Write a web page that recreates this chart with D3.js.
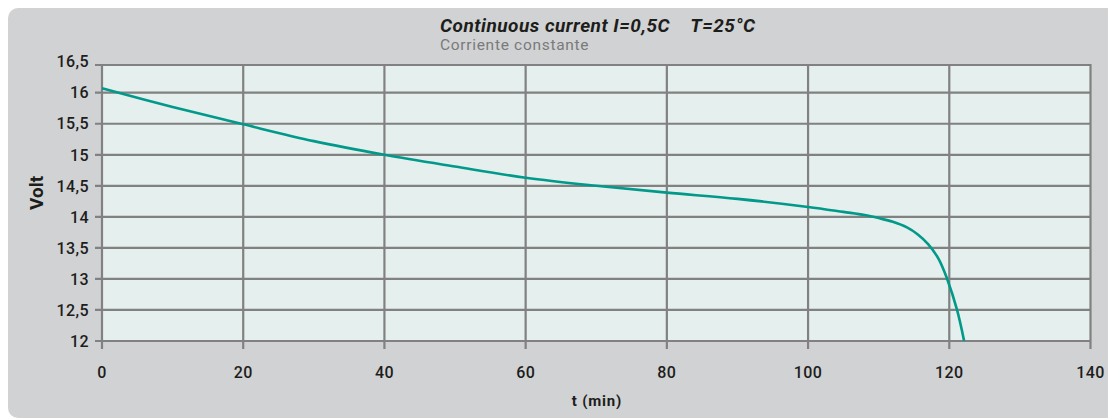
<!DOCTYPE html>
<html>
<head>
<meta charset="utf-8">
<script src="https://cdn.jsdelivr.net/npm/d3@7"></script>
<style>
  body { margin: 0; background: #fff; }
  text { font-family: Roboto, "DejaVu Sans", sans-serif; fill: #1d1d1b; }
</style>
</head>
<body>
<div id="chart"></div>
<script>
// discharge curve
var timeMin = [0, 10, 20, 30, 40, 50, 60, 70, 80, 90, 100, 105, 108, 110, 112, 114, 115.5, 117, 118.5, 119.7, 121.1, 122.1];
var volts   = [16.07, 15.77, 15.49, 15.22, 15.0, 14.81, 14.63, 14.50, 14.39, 14.29, 14.16, 14.08, 14.03, 13.98, 13.92, 13.83, 13.72, 13.56, 13.32, 13.0, 12.5, 12.0];
var xTicks = [0, 20, 40, 60, 80, 100, 120, 140];
var yTicks = [12, 12.5, 13, 13.5, 14, 14.5, 15, 15.5, 16, 16.5];
var titleText = "Continuous current I=0,5C    T=25°C";
var subtitleText = "Corriente constante";

var W = 1108, H = 420;
var plotTop = 65;

var svg = d3.select("#chart").append("svg")
    .attr("width", W)
    .attr("height", H);

// grey panel
svg.append("rect")
    .attr("x", 8).attr("y", 8)
    .attr("width", W + 20).attr("height", 410)
    .attr("rx", 10).attr("ry", 10)
    .style("fill", "#d1d2d4");

var x = d3.scaleLinear().domain([0, 140]).range([102, 1090.5]);
var y = d3.scaleLinear().domain([12, 16]).range([341, 92.7]);
function yc(v) { return Math.max(y(v), plotTop); }

svg.append("rect")
    .attr("x", x(0)).attr("y", plotTop)
    .attr("width", x(140) - x(0)).attr("height", y(12) - plotTop)
    .style("fill", "#e5efed");

var grid = svg.append("g").attr("class", "grid");
grid.selectAll("line.h")
    .data(yTicks)
    .enter().append("line")
    .attr("class", "h")
    .attr("x1", x(0) - 7).attr("x2", x(140))
    .attr("y1", function (d) { return yc(d); })
    .attr("y2", function (d) { return yc(d); })
    .style("stroke", "#818181").style("stroke-width", 2.2);
grid.selectAll("line.v")
    .data(xTicks)
    .enter().append("line")
    .attr("class", "v")
    .attr("y1", plotTop - 1).attr("y2", y(12) + 8)
    .attr("x1", function (d) { return x(d); })
    .attr("x2", function (d) { return x(d); })
    .style("stroke", "#818181").style("stroke-width", 2.2);

var fmt = function (d) { return String(d).replace(".", ","); };

svg.append("g").selectAll("text")
    .data(yTicks)
    .enter().append("text")
    .attr("x", 89)
    .attr("y", function (d) { return y(d); })
    .attr("dy", "0.36em")
    .style("text-anchor", "end")
    .style("font-size", "16px")
    .style("letter-spacing", "0.4px")
    .style("font-weight", 500)
    .text(fmt);

svg.append("g").selectAll("text")
    .data(xTicks)
    .enter().append("text")
    .attr("x", function (d) { return x(d); })
    .attr("y", 378)
    .style("text-anchor", "middle")
    .style("font-size", "16px")
    .style("letter-spacing", "0.4px")
    .style("font-weight", 500)
    .text(function (d) { return d; });

var line = d3.line()
    .x(function (d, i) { return x(timeMin[i]); })
    .y(function (d) { return y(d); })
    .curve(d3.curveCatmullRom.alpha(0.5));

svg.append("path")
    .datum(volts)
    .attr("d", line)
    .style("fill", "none")
    .style("stroke", "#00998a")
    .style("stroke-width", 2.6);

svg.append("text")
    .attr("transform", "translate(43,193) rotate(-90)")
    .style("text-anchor", "middle")
    .style("font-size", "19px")
    .style("font-weight", "bold")
    .text("Volt");

svg.append("text")
    .attr("x", 597).attr("y", 406)
    .style("text-anchor", "middle")
    .style("font-size", "15px")
    .style("letter-spacing", "0.8px")
    .style("font-weight", "bold")
    .text("t (min)");

svg.append("text")
    .attr("x", 440).attr("y", 32)
    .style("font-size", "19px")
    .style("letter-spacing", "0.5px")
    .style("font-weight", "bold")
    .style("font-style", "italic")
    .attr("xml:space", "preserve")
    .text(titleText);

svg.append("text")
    .attr("x", 440).attr("y", 50)
    .style("font-size", "15.5px")
    .style("letter-spacing", "0.7px")
    .style("fill", "#7a7a7a")
    .text(subtitleText);
</script>
</body>
</html>
